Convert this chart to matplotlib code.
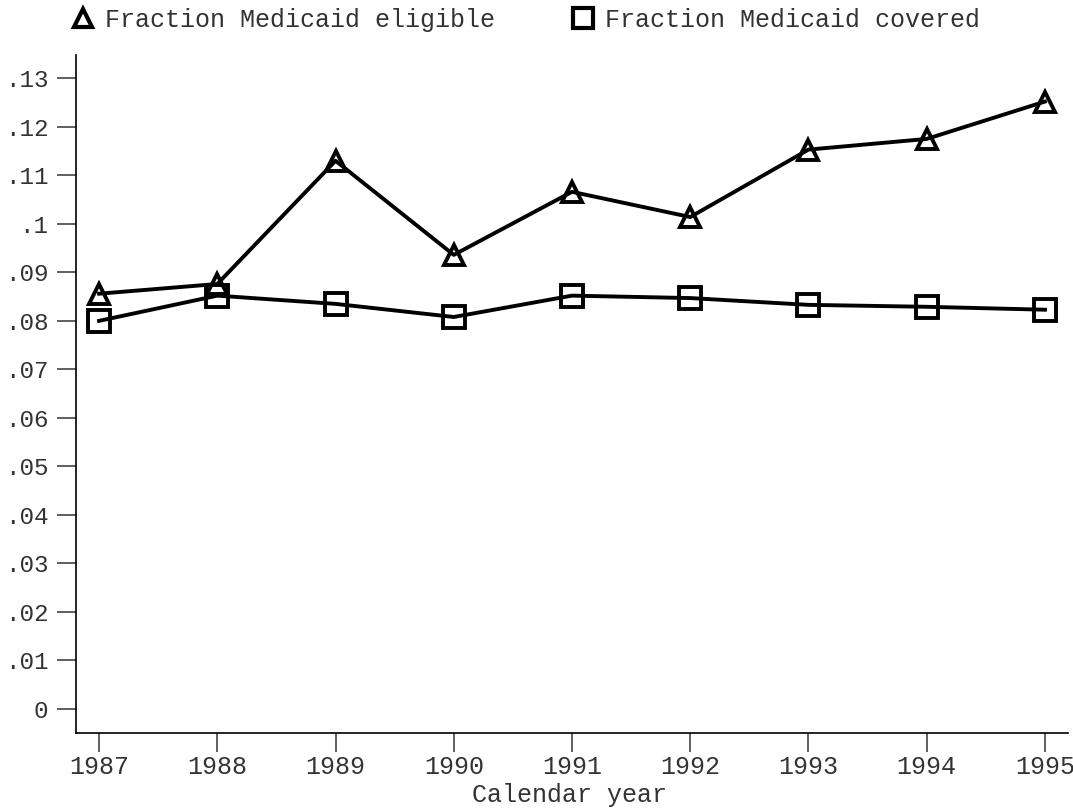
import matplotlib
matplotlib.use("Agg")
import matplotlib.pyplot as plt
from matplotlib.lines import Line2D

# Data
years = [1987, 1988, 1989, 1990, 1991, 1992, 1993, 1994, 1995]
eligible = [0.0856, 0.0876, 0.1130, 0.0936, 0.1066, 0.1014, 0.1153, 0.1175, 0.1252]
covered = [0.0800, 0.0852, 0.0835, 0.0808, 0.0852, 0.0847, 0.0833, 0.0829, 0.0823]
ytick_vals = [0, .01, .02, .03, .04, .05, .06, .07, .08, .09, .1, .11, .12, .13]
ytick_labels = ["0", ".01", ".02", ".03", ".04", ".05", ".06", ".07", ".08",
                ".09", ".1", ".11", ".12", ".13"]

plt.rcParams['font.family'] = ['Liberation Mono', 'DejaVu Sans Mono']
txt_col = '#333333'

fig = plt.figure(figsize=(10.73, 8.10), dpi=100)
ax = fig.add_axes([76/1073, 77/810, (1068-76)/1073, (733-55)/810])

ax.plot(years, eligible, color='black', lw=2.8, marker='^', ms=15,
        mfc='none', mec='black', mew=2.8, clip_on=False)
ax.plot(years, covered, color='black', lw=2.8, marker='s', ms=16,
        mfc='none', mec='black', mew=2.8, clip_on=False)

ax.set_xlim(1986.805, 1995.195)
ax.set_ylim(-0.00495, 0.1348)
ax.set_xticks(years)
ax.set_xticklabels([str(y) for y in years])
ax.set_yticks(ytick_vals)
ax.set_yticklabels(ytick_labels)

for s in ['top', 'right']:
    ax.spines[s].set_visible(False)
for s in ['left', 'bottom']:
    ax.spines[s].set_linewidth(1.2)
    ax.spines[s].set_color('black')

ax.tick_params(axis='both', direction='out', length=14, width=1.2,
               colors='#444444', labelsize=18, labelcolor=txt_col)
ax.tick_params(axis='y', pad=6, labelsize=17.5)
ax.tick_params(axis='x', pad=2)

# axis title placed on its own baseline below the tick labels
fig.text(570/1073, 1 - 802/810, "Calendar year", fontsize=18, color=txt_col,
         ha='center', va='baseline')

h1 = Line2D([], [], ls='none', marker='^', ms=13, mfc='none', mec='black', mew=3)
h2 = Line2D([], [], ls='none', marker='s', ms=14, mfc='none', mec='black', mew=3)
leg = fig.legend([h1, h2], ["Fraction Medicaid eligible", "Fraction Medicaid covered"],
                 loc='center left', bbox_to_anchor=(60/1073, 1 - 20/810), ncol=2,
                 frameon=False, fontsize=18, handlelength=1.0, handletextpad=0.4,
                 columnspacing=3.0, borderaxespad=0)
for t in leg.get_texts():
    t.set_color(txt_col)

fig.savefig("out.png", dpi=100)
